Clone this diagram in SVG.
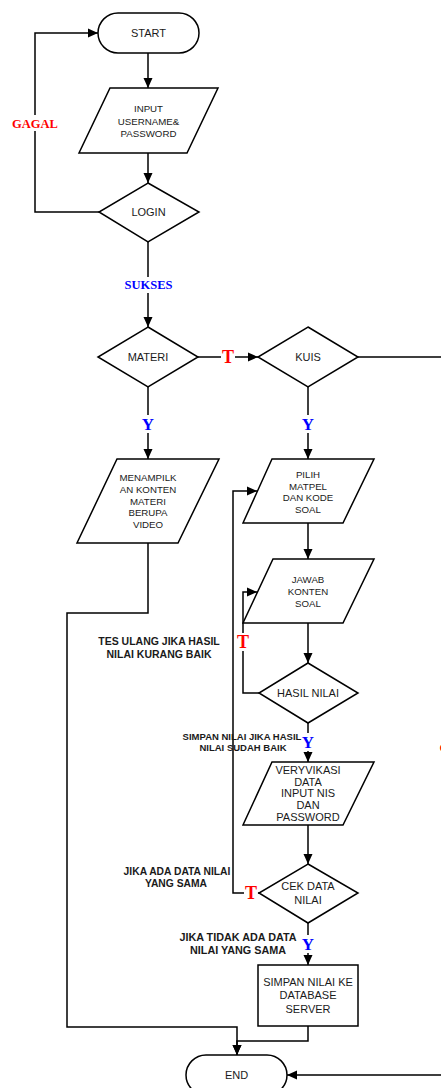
<svg xmlns="http://www.w3.org/2000/svg" width="441" height="1088" viewBox="0 0 441 1088">
<style>
.n{fill:#fff;stroke:#000;stroke-width:1.5}
.t{font-family:"Liberation Sans",Arial,sans-serif;font-size:11px;fill:#1a1a1a;text-anchor:middle}
.s{font-size:9.7px}
.c{fill:none;stroke:#000;stroke-width:1.5}
.a{font-family:"Liberation Sans",Arial,sans-serif;font-weight:bold;fill:#1a1a1a;text-anchor:middle}
.r{font-family:"Liberation Serif","Times New Roman",serif;font-weight:bold;fill:#f00;text-anchor:middle}
.b{font-family:"Liberation Serif","Times New Roman",serif;font-weight:bold;fill:#00f;text-anchor:middle}
.bg{fill:#fff}
</style>
<defs>
<marker id="ah" markerWidth="10" markerHeight="10" refX="10" refY="5" orient="auto" markerUnits="userSpaceOnUse"><path d="M0,0.5 L10,5 L0,9.5 z" fill="#000"/></marker>
</defs>
<g id="connectors">
<path class="c" d="M148,53 V88" marker-end="url(#ah)"/>
<path class="c" d="M148,153 V183" marker-end="url(#ah)"/>
<path class="c" d="M99,212 H35 V33 H98" marker-end="url(#ah)"/>
<path class="c" d="M148,242 V327" marker-end="url(#ah)"/>
<path class="c" d="M198,357 H258" marker-end="url(#ah)"/>
<path class="c" d="M358,357 H460 V1075 H287" marker-end="url(#ah)"/>
<path class="c" d="M148,387 V459" marker-end="url(#ah)"/>
<path class="c" d="M308,387 V459" marker-end="url(#ah)"/>
<path class="c" d="M148,543 V613 H67 V1027 H237 V1055" marker-end="url(#ah)"/>
<path class="c" d="M308,523 V559" marker-end="url(#ah)"/>
<path class="c" d="M308,623 V663" marker-end="url(#ah)"/>
<path class="c" d="M259,693 H243 V592 H257" marker-end="url(#ah)"/>
<path class="c" d="M308,723 V762" marker-end="url(#ah)"/>
<path class="c" d="M308,825 V864" marker-end="url(#ah)"/>
<path class="c" d="M259,893 H233 V491 H257" marker-end="url(#ah)"/>
<path class="c" d="M308,923 V965" marker-end="url(#ah)"/>
<path class="c" d="M308,1026 V1041 H237 V1055" marker-end="url(#ah)"/>
</g>
<g id="labels">
<rect class="bg" x="12" y="115" width="46" height="16"/>
<text class="r" x="35" y="128" font-size="12.5">GAGAL</text>
<rect class="bg" x="123" y="277" width="51" height="16"/>
<text class="b" x="148.5" y="289" font-size="12.5">SUKSES</text>
<rect class="bg" x="221" y="348" width="14" height="18"/>
<text class="r" x="228" y="363" font-size="18">T</text>
<rect class="bg" x="141" y="415" width="14" height="18"/>
<text class="b" x="148" y="430" font-size="17">Y</text>
<rect class="bg" x="301" y="415" width="14" height="18"/>
<text class="b" x="308" y="430" font-size="17">Y</text>
<rect class="bg" x="236" y="633" width="14" height="18"/>
<text class="r" x="243" y="648" font-size="18">T</text>
<rect class="bg" x="301" y="733" width="14" height="18"/>
<text class="b" x="308" y="748" font-size="17">Y</text>
<rect class="bg" x="244" y="884" width="14" height="18"/>
<text class="r" x="251" y="899" font-size="18">T</text>
<rect class="bg" x="301" y="935" width="14" height="18"/>
<text class="b" x="308" y="950" font-size="17">Y</text>
<text class="r" x="439.5" y="752" font-size="12.5" text-anchor="start" style="text-anchor:start">G</text>
<text class="a" font-size="10.5"><tspan x="159" y="645">TES ULANG JIKA HASIL</tspan><tspan x="159" y="658">NILAI KURANG BAIK</tspan></text>
<text class="a" font-size="9.5"><tspan x="242" y="740">SIMPAN NILAI JIKA HASIL</tspan><tspan x="243" y="751">NILAI SUDAH BAIK</tspan></text>
<text class="a" font-size="10.3"><tspan x="177" y="875">JIKA ADA DATA NILAI</tspan><tspan x="176" y="887">YANG SAMA</tspan></text>
<text class="a" font-size="10.8"><tspan x="238" y="941">JIKA TIDAK ADA DATA</tspan><tspan x="238" y="954">NILAI YANG SAMA</tspan></text>
</g>
<g id="start"><rect class="n" x="98" y="13" width="101" height="40" rx="20"/><text class="t" x="148.5" y="37">START</text></g>
<g id="input"><polygon class="n" points="110,88 218,88 187,153 79,153"/><text class="t s"><tspan x="148.5" y="112">INPUT</tspan><tspan x="148.5" y="125">USERNAME&amp;</tspan><tspan x="148.5" y="137">PASSWORD</tspan></text></g>
<g id="login"><polygon class="n" points="148,183 199,212 148,242 99,212"/><text class="t" x="148.5" y="216">LOGIN</text></g>
<g id="materi"><polygon class="n" points="148,327 198,357 148,387 98,357"/><text class="t" x="148" y="361">MATERI</text></g>
<g id="kuis"><polygon class="n" points="308,327 358,357 308,387 258,357"/><text class="t" x="308" y="361">KUIS</text></g>
<g id="menampilkan"><polygon class="n" points="117,459 219,459 178,543 77,543"/><text class="t s"><tspan x="148" y="481">MENAMPILK</tspan><tspan x="148" y="493">AN KONTEN</tspan><tspan x="148" y="504.5">MATERI</tspan><tspan x="148" y="516">BERUPA</tspan><tspan x="148" y="527.5">VIDEO</tspan></text></g>
<g id="pilih"><polygon class="n" points="272,459 374,459 343,523 243,523"/><text class="t s"><tspan x="308" y="477.5">PILIH</tspan><tspan x="308" y="489.5">MATPEL</tspan><tspan x="308" y="501">DAN KODE</tspan><tspan x="308" y="513">SOAL</tspan></text></g>
<g id="jawab"><polygon class="n" points="273,559 374,559 343,623 243,623"/><text class="t s"><tspan x="308" y="582.5">JAWAB</tspan><tspan x="308" y="594.5">KONTEN</tspan><tspan x="308" y="606.5">SOAL</tspan></text></g>
<g id="hasil"><polygon class="n" points="308,663 358,693 308,723 259,693"/><text class="t" x="308" y="697">HASIL NILAI</text></g>
<g id="verifikasi"><polygon class="n" points="272,762 374,762 343,825 243,825"/><text class="t" font-size="10"><tspan x="308" y="773.5">VERYVIKASI</tspan><tspan x="308" y="785.5">DATA</tspan><tspan x="308" y="796.5">INPUT NIS</tspan><tspan x="308" y="808.5">DAN</tspan><tspan x="308" y="820.5">PASSWORD</tspan></text></g>
<g id="cek"><polygon class="n" points="308,864 358,893 308,923 259,893"/><text class="t"><tspan x="308" y="890">CEK DATA</tspan><tspan x="308" y="904">NILAI</tspan></text></g>
<g id="simpan"><rect class="n" x="258" y="965" width="100" height="61"/><text class="t"><tspan x="308" y="986">SIMPAN NILAI KE</tspan><tspan x="308" y="999">DATABASE</tspan><tspan x="308" y="1013">SERVER</tspan></text></g>
<g id="end"><rect class="n" x="186" y="1055" width="101" height="40" rx="20"/><text class="t" x="236.5" y="1079">END</text></g>
</svg>
